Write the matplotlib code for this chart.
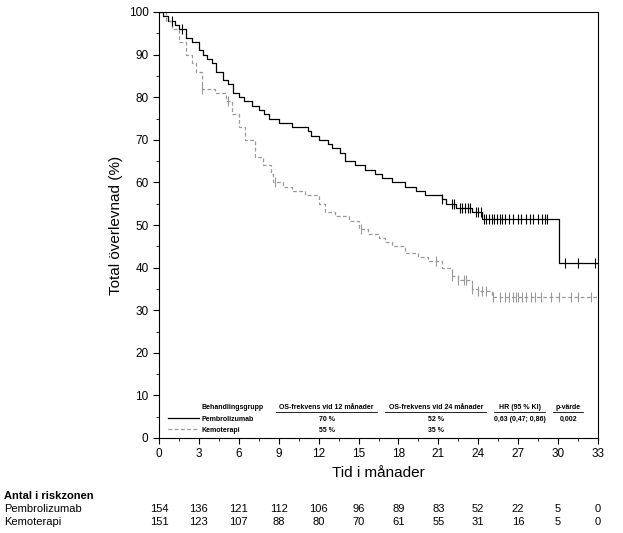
import matplotlib
matplotlib.use("Agg")
import matplotlib.pyplot as plt
import numpy as np

plt.rcParams['font.family'] = ['Liberation Sans', 'DejaVu Sans']

pem_t = [0, 0.3, 0.7, 1.2, 1.5, 2.0, 2.5, 3.0, 3.3, 3.6, 4.0, 4.3, 4.8, 5.2, 5.6, 6.0, 6.4, 7.0, 7.5, 7.9, 8.3, 9.0, 10.0,
         11.2, 11.4, 12.0, 12.7, 13.0, 13.6, 14.0, 14.7, 15.5, 16.2, 16.8, 17.5, 18.5, 19.3, 20.0, 21.3, 21.6, 22.3, 23.5, 24.3, 30.1, 33]
pem_s = [100, 99, 98, 97, 96, 94, 93, 91, 90, 89, 88, 86, 84, 83, 81, 80, 79, 78, 77, 76, 75, 74, 73,
         72, 71, 70, 69, 68, 67, 65, 64, 63, 62, 61, 60, 59, 58, 57, 56, 55, 54, 53, 51.5, 41, 41]
pem_cens = [1.0, 1.7, 21.3, 22.0, 22.2, 22.6, 22.8, 23.0, 23.2, 23.4, 23.8, 24.0, 24.2, 24.4, 24.6, 24.8, 25.0, 25.2,
            25.4, 25.6, 25.8, 26.0, 26.3, 26.6, 27.0, 27.2, 27.6, 27.9, 28.1, 28.5, 28.8, 29.0, 29.2, 30.5, 31.5, 32.8]

kem_t = [0, 0.5, 1.0, 1.5, 2.0, 2.5, 2.8, 3.2, 4.2, 5.0, 5.5, 6.0, 6.5, 7.2, 7.8, 8.4, 8.6, 9.3, 10.0, 11.0, 12.0, 12.5,
         13.2, 14.3, 15.0, 15.7, 16.5, 17.0, 17.5, 18.5, 19.5, 20.2, 21.3, 22.0, 22.5, 23.5, 24.0, 25.0, 33]
kem_s = [100, 98, 96, 93, 90, 88, 86, 82, 81, 79, 76, 73, 70, 66, 64, 62, 60, 59, 58, 57, 55, 53,
         52, 51, 49, 48, 47, 46, 45, 43.5, 42.5, 41.5, 40, 38, 37, 35, 34.5, 33, 33]
kem_cens = [3.2, 5.2, 8.7, 15.2, 20.8, 22.0, 22.5, 22.9, 23.1, 23.5, 24.0, 24.3, 24.6, 25.1, 25.6, 26.0, 26.3, 26.6, 26.8,
            27.0, 27.3, 27.6, 28.0, 28.3, 28.7, 29.5, 30.1, 31.0, 31.5, 32.5]

risk_times = list(range(0, 34, 3))
risk_pem = [154, 136, 121, 112, 106, 96, 89, 83, 52, 22, 5, 0]
risk_kem = [151, 123, 107, 88, 80, 70, 61, 55, 31, 16, 5, 0]

fig = plt.figure(figsize=(6.23, 5.33), dpi=100)
ax = fig.add_axes([159/623, 1-438/533, 439/623, 426/533])

def surv_at(ts, ss, x):
    i = np.searchsorted(ts, x, side='right') - 1
    return ss[max(i, 0)]

ax.step(pem_t, pem_s, where='post', color='black', lw=0.9)
ax.step(kem_t, kem_s, where='post', color='#999999', lw=0.9, ls=(0, (3, 2)))
ax.plot(pem_cens, [surv_at(pem_t, pem_s, c) for c in pem_cens], ls='none', marker='|', ms=7, color='black', mew=0.8)
ax.plot(kem_cens, [surv_at(kem_t, kem_s, c) for c in kem_cens], ls='none', marker='|', ms=7, color='#999999', mew=0.8)

ax.set_xlim(0, 33)
ax.set_ylim(0, 100)
ax.set_xticks(risk_times)
ax.set_xticks(np.arange(0, 33.1, 1.5), minor=True)
ax.set_yticks(range(0, 101, 10))
ax.set_yticks(range(0, 101, 5), minor=True)
ax.tick_params(labelsize=8.5, length=4)
ax.tick_params(which='minor', length=2.5)
ax.set_xlabel('Tid i månader', fontsize=11)
ax.set_ylabel('Total överlevnad (%)', fontsize=11)

# legend table
fs = 5.0
ax.text(3.2, 6.8, 'Behandlingsgrupp', fontsize=fs, fontweight='bold')
hdrs = [(12.6, 7.6, 'OS-frekvens vid 12 månader'), (20.8, 7.6, 'OS-frekvens vid 24 månader'),
        (27.1, 3.9, 'HR (95 % KI)'), (30.75, 2.2, 'p-värde')]
for x, w, h in hdrs:
    ax.text(x, 6.8, h, fontsize=fs, fontweight='bold', ha='center')
    ax.plot([x - w/2, x + w/2], [6.2, 6.2], color='black', lw=0.6)
ax.plot([0.7, 3.0], [4.7, 4.7], color='black', lw=0.9)
ax.plot([0.7, 3.0], [2.2, 2.2], color='#999999', lw=0.9, ls=(0, (3, 2)))
ax.text(3.2, 4.0, 'Pembrolizumab', fontsize=fs, fontweight='bold')
ax.text(3.2, 1.5, 'Kemoterapi', fontsize=fs, fontweight='bold')
for y, v12, v24 in [(4.0, '70 %', '52 %'), (1.5, '55 %', '35 %')]:
    ax.text(12.6, y, v12, fontsize=fs, fontweight='bold', ha='center')
    ax.text(20.8, y, v24, fontsize=fs, fontweight='bold', ha='center')
ax.text(27.1, 4.0, '0,63 (0,47; 0,86)', fontsize=fs, fontweight='bold', ha='center')
ax.text(30.75, 4.0, '0,002', fontsize=fs, fontweight='bold', ha='center')

# risk table
fig.text(4/623, 1-496/533, 'Antal i riskzonen', fontsize=8, fontweight='bold', va='center')
fig.text(4/623, 1-509/533, 'Pembrolizumab', fontsize=8, va='center')
fig.text(4/623, 1-522/533, 'Kemoterapi', fontsize=8, va='center')
for t, a, b in zip(risk_times, risk_pem, risk_kem):
    xf = (159 + t * 439/33) / 623
    fig.text(xf, 1-509/533, str(a), fontsize=8, ha='center', va='center')
    fig.text(xf, 1-522/533, str(b), fontsize=8, ha='center', va='center')

fig.savefig('out.png', dpi=100)
